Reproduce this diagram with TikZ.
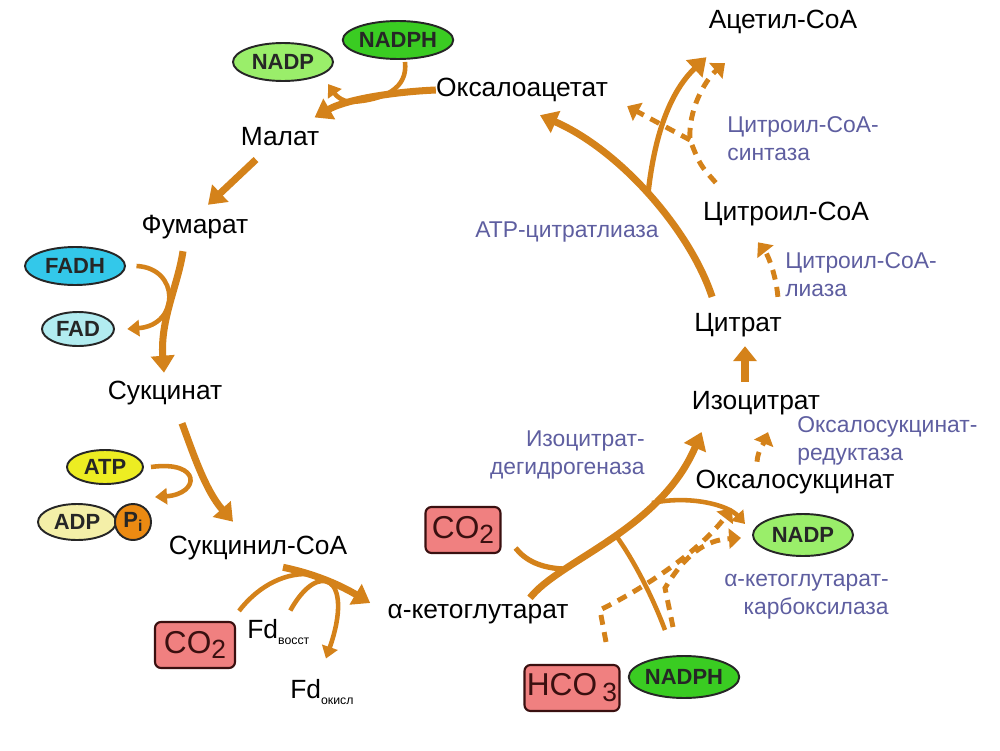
\documentclass[tikz,border=0pt]{standalone}
\usepackage{fontspec}
\setmainfont{Liberation Sans}
\usepackage{tikz}
\usetikzlibrary{arrows.meta,shapes.geometric}
\definecolor{rxorange}{HTML}{D4821A}
\definecolor{enzblue}{HTML}{5E5EA0}
\definecolor{nadplite}{HTML}{9AEE6A}
\definecolor{nadpdark}{HTML}{3ACC22}
\definecolor{fadhcol}{HTML}{33C8EA}
\definecolor{fadcol}{HTML}{B2ECF0}
\definecolor{atpcol}{HTML}{EDED22}
\definecolor{adpcol}{HTML}{F4EFA8}
\definecolor{picol}{HTML}{EB8A12}
\definecolor{gasfill}{HTML}{F08080}
\definecolor{gasline}{HTML}{3A1010}
\newcommand{\lowidx}[1]{\raisebox{-0.5ex}{\fontsize{7}{8}\selectfont #1}}
\newcommand{\gasidx}[1]{\raisebox{-0.35ex}{\fontsize{15}{16}\selectfont #1}}

\begin{document}
\begin{tikzpicture}[x=0.2mm,y=-0.2mm,
  met/.style={inner sep=0pt,font=\fontsize{15}{17}\selectfont},
  enz/.style={inner sep=0pt,text=enzblue,font=\fontsize{13}{16}\selectfont,align=left},
  cof/.style={ellipse,draw=black!85,line width=1.1pt,inner sep=0pt,minimum width=20mm,minimum height=7.6mm,
    font=\bfseries\fontsize{12.5}{14}\selectfont,text=black!85},
  gas/.style={rectangle,rounded corners=1.2mm,draw=gasline,line width=1.2pt,fill=gasfill,inner sep=0pt,
    minimum height=9.2mm,font=\fontsize{18}{20}\selectfont,text=gasline},
  rxn/.style={rxorange,line width=4pt,-{Triangle[length=3.4mm,width=4.6mm]}},
  sidepath/.style={rxorange,line width=2.6pt},
  sidearr/.style={sidepath,-{Triangle[length=2.4mm,width=3.2mm]}},
  altpath/.style={rxorange,line width=2.8pt,dash pattern=on 2mm off 1.5mm},
  altarr/.style={altpath,-{Triangle[length=2.4mm,width=4mm]}}]
  \path[use as bounding box] (0,0) rectangle (1000,750);

  % metabolites
  \node[met] (acet) at (783,22) {Ацетил-СоА};
  \node[met] (oxac) at (522,90) {Оксалоацетат};
  \node[met] (malat) at (280,137) {Малат};
  \node[met] (fum) at (195,227) {Фумарат};
  \node[met] (succ) at (165,393) {Сукцинат};
  \node[met] (succoa) at (258,548) {Сукцинил-СоА};
  \node[met] (akg) at (478,614) {α-кетоглутарат};
  \node[met] (isocit) at (756,403) {Изоцитрат};
  \node[met] (oxsucc) at (795,482) {Оксалосукцинат};
  \node[met] (citr) at (738,325) {Цитрат};
  \node[met] (citcoa) at (786,214) {Цитроил-СоА};
  \node[met,anchor=west] (fdr) at (247,632) {Fd\lowidx{восст}};
  \node[met,anchor=west] (fdo) at (290,692) {Fd\lowidx{окисл}};

  % enzymes
  \node[enz,anchor=west] (ecss) at (727,139) {Цитроил-СоА-\\синтаза};
  \node[enz,anchor=west] (ecl) at (785,275) {Цитроил-СоА-\\лиаза};
  \node[enz] (eacl) at (567,232) {ATP-цитратлиаза};
  \node[enz,anchor=east,align=right] (eidh) at (645,455) {Изоцитрат-\\дегидрогеназа};
  \node[enz,anchor=west] (eosr) at (797,441) {Оксалосукцинат-\\редуктаза};
  \node[enz,anchor=east,align=right] (ekgc) at (889,597) {α-кетоглутарат-\\карбоксилаза};

  % cofactors
  \node[cof,fill=nadplite] (nadp) at (283,62) {NADP};
  \node[cof,fill=nadpdark] (nadph) at (398,40) {NADPH};
  \node[cof,fill=fadhcol] (fadh) at (75,266) {FADH};
  \node[cof,fill=fadcol,minimum width=14.4mm,minimum height=6.8mm] (fad) at (78,329) {FAD};
  \node[cof,fill=atpcol,minimum width=15.2mm,minimum height=6.8mm] (atp) at (105,467) {ATP};
  \node[cof,fill=adpcol,minimum width=15.6mm,minimum height=7.2mm] (adp) at (77,522) {ADP};
  \node[cof,circle,fill=picol,minimum width=7.2mm,minimum height=7.2mm] (pi) at (133,522) {P\raisebox{-0.4ex}{\fontsize{9}{10}\selectfont i}};
  \node[cof,fill=nadplite,minimum height=8.4mm] (nadpb) at (803,535) {NADP};
  \node[cof,fill=nadpdark,minimum height=8.4mm] (nadphb) at (684,677) {NADPH};
  \node[gas,minimum width=16mm] (co2a) at (195,645) {CO\gasidx{2}};
  \node[gas,minimum width=15mm] (co2b) at (463,530) {CO\gasidx{2}};
  \node[gas,minimum width=19mm] (hco3) at (572,688) {HCO\,\gasidx{3}};

  % junctions
  \coordinate (jmal) at (351,102);
  \coordinate (jsuc) at (309,574);
  \coordinate (jkg) at (564,569);
  \coordinate (jnad) at (617,537);
  \coordinate (jos) at (652,503);
  \coordinate (dk) at (600,610);
  \coordinate (jcc) at (690,140);
  \coordinate (jcl) at (648,194);

  % oxaloacetate -> malate
  \draw[rxn] (oxac.west) .. controls (390,92) and (345,100) .. ([shift={(-5,-10)}]malat.north east);
  \draw[sidepath] ([shift={(7,2)}]nadph.south) .. controls (408,88) and (385,100) .. (jmal);
  \draw[sidearr] (jmal) .. controls (340,101) and (335,94) .. ([shift={(-6,22)}]nadp.east);
  % malate -> fumarate -> succinate
  \draw[rxn] ([shift={(-24,13)}]malat.south) -- ([shift={(13,-10)}]fum.north);
  \draw[rxn] ([shift={(-12,12)}]fum.south) .. controls (178,285) and (160,320) .. ([shift={(-1,-8)}]succ.north);
  \draw[sidearr] ([xshift=6]fadh.east) .. controls (180,268) and (180,325) .. ([xshift=7]fad.east);
  % succinate -> succinyl-CoA
  \draw[rxn] ([shift={(17,18)}]succ.south) .. controls (192,450) and (205,490) .. ([shift={(-25,-14)}]succoa.north);
  \draw[sidearr] ([xshift=4]atp.east) .. controls (202,460) and (200,494) .. ([shift={(22,-6)}]pi.north);
  % succinyl-CoA -> alpha-ketoglutarate
  \draw[rxn] ([shift={(25,7)}]succoa.south) .. controls (320,575) and (345,588) .. ([shift={(-17,-11)}]akg.west);
  \draw[sidepath] ([shift={(3,-10)}]co2a.north east) .. controls (255,590) and (280,573) .. (jsuc);
  \draw[sidearr] ([shift={(12,-8)}]fdr.north) .. controls (318,560) and (355,575) .. ([shift={(4,-20)}]fdo.north);
  % alpha-ketoglutarate -> isocitrate
  \draw[rxn] ([shift={(52,-6)}]akg.north) .. controls (560,560) and (660,530) .. ([shift={(10,29)}]isocit.west);
  \draw[sidepath,line width=3pt] (jkg) .. controls (540,568) and (525,560) .. ([shift={(14,18)}]co2b.east);
  \draw[sidearr] (jos) .. controls (690,495) and (728,505) .. ([shift={(-7,-11)}]nadpb.west);
  \draw[sidepath] ([shift={(-19,-25)}]nadphb.north) .. controls (650,590) and (630,555) .. (jnad);
  % carboxylase route
  \draw[altarr] ([shift={(34,-22)}]hco3.north) -- (dk) .. controls (650,585) and (700,550) .. ([shift={(-63,14)}]oxsucc.south);
  \draw[altarr] ([shift={(-11,-28)}]nadphb.north) -- (665,588) .. controls (685,555) and (705,540) .. ([shift={(-11,3)}]nadpb.west);
  \draw[altarr] ([shift={(-38,-8)}]oxsucc.north) .. controls (758,450) and (763,445) .. ([shift={(12,17)}]isocit.south);
  % isocitrate -> citrate
  \draw[rxn,-{Triangle[length=3mm,width=4.6mm]}] ([shift={(-11,-9)}]isocit.north) -- ([shift={(7,9)}]citr.south);
  % citrate -> citroyl-CoA -> acetyl-CoA
  \draw[altarr] ([shift={(-4,-16)}]citr.north east) .. controls (776,275) and (768,255) .. ([shift={(-28,16)}]citcoa.south);
  \draw[altarr] ([shift={(13,-19)}]citcoa.north west) .. controls (700,165) .. (jcc) .. controls (688,110) and (705,80) .. ([shift={(-58,29)}]acet.south);
  \draw[altarr] (jcc) -- ([shift={(19,4)}]oxac.south east);
  % ATP-citrate lyase
  \draw[rxn] ([shift={(18,-16)}]citr.north west) .. controls (690,230) and (620,150) .. ([shift={(18,13)}]oxac.south);
  \draw[rxn,line width=3pt] (jcl) .. controls (655,130) and (672,90) .. ([shift={(-2,23)}]acet.south west);
\end{tikzpicture}
\end{document}
